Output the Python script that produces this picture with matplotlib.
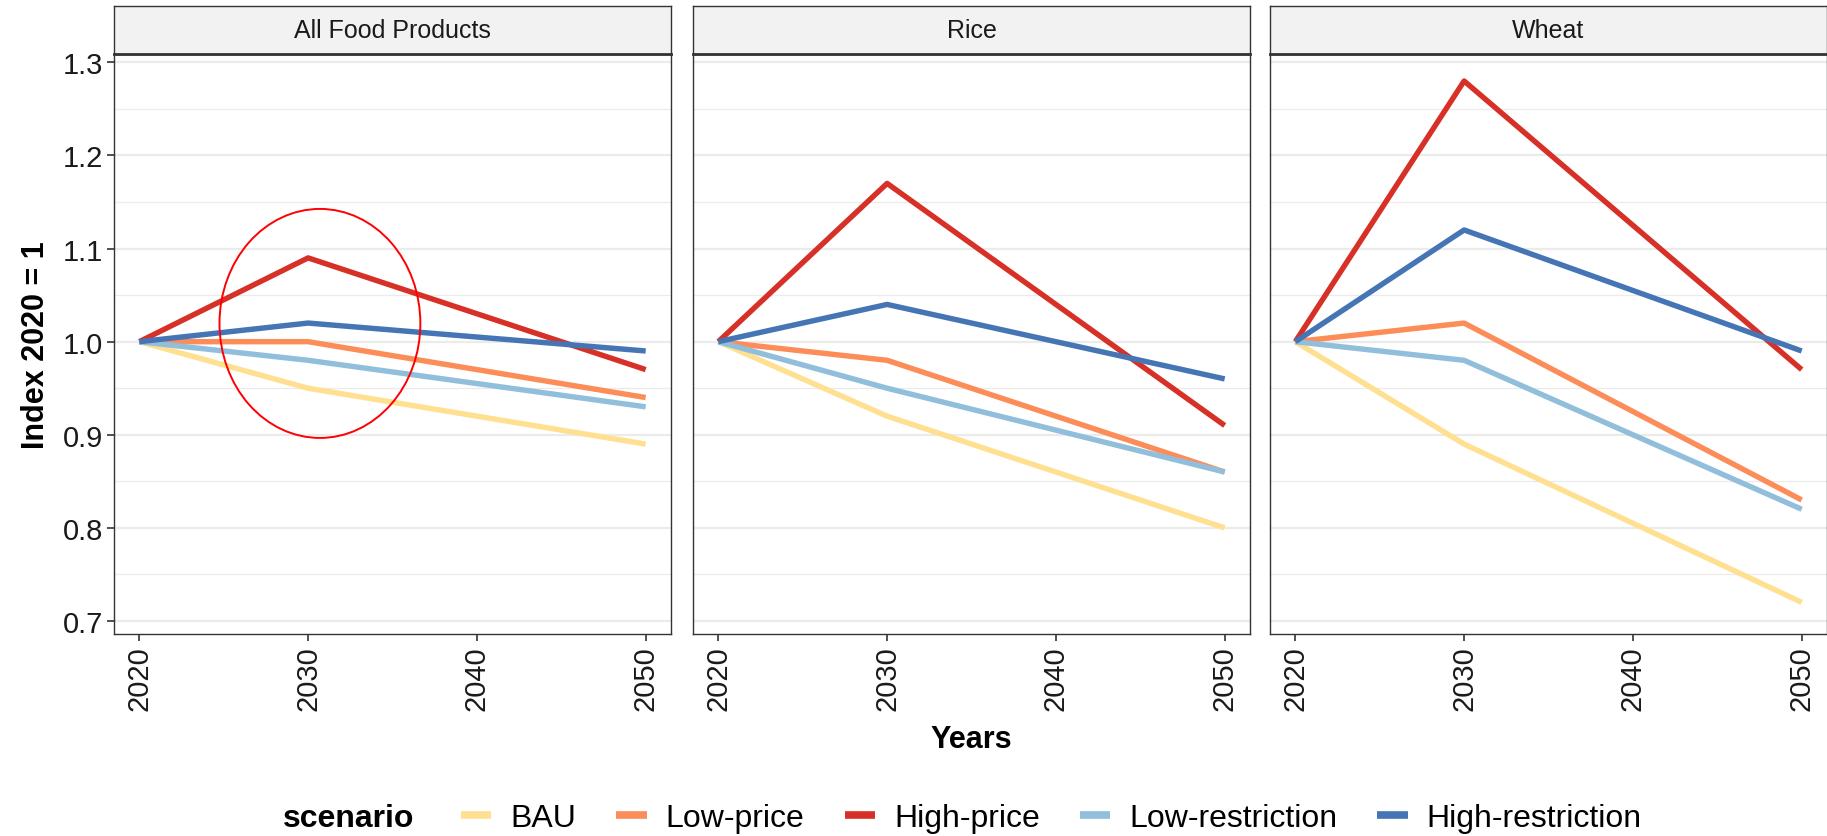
import matplotlib.pyplot as plt
import numpy as np
from matplotlib.patches import Ellipse
from matplotlib.lines import Line2D

plt.rcParams['font.family'] = ['Liberation Sans', 'DejaVu Sans']

years = [2020, 2030, 2050]
panels = ['All Food Products', 'Rice', 'Wheat']
scenarios = ['BAU', 'Low-price', 'High-price', 'Low-restriction', 'High-restriction']
colors = ['#FEE090', '#FC8D59', '#D73027', '#91BFDB', '#4575B4']

# values per panel, per scenario (2020, 2030, 2050)
all_food = [[1.0, 0.95, 0.89],
            [1.0, 1.00, 0.94],
            [1.0, 1.09, 0.97],
            [1.0, 0.98, 0.93],
            [1.0, 1.02, 0.99]]
rice = [[1.0, 0.92, 0.80],
        [1.0, 0.98, 0.86],
        [1.0, 1.17, 0.91],
        [1.0, 0.95, 0.86],
        [1.0, 1.04, 0.96]]
wheat = [[1.0, 0.89, 0.72],
         [1.0, 1.02, 0.83],
         [1.0, 1.28, 0.97],
         [1.0, 0.98, 0.82],
         [1.0, 1.12, 0.99]]
data = [all_food, rice, wheat]

W, H = 1827, 837
fig = plt.figure(figsize=(W / 100, H / 100), dpi=100)

lefts = [114, 693, 1270]
pw = 557
top, bottom, strip_top = 55, 635, 7

for i, name in enumerate(panels):
    ax = fig.add_axes([lefts[i] / W, 1 - bottom / H, pw / W, (bottom - top) / H])
    for s in range(len(scenarios)):
        ax.plot(years, data[i][s], color=colors[s], lw=3.9, solid_capstyle='butt', zorder=3)
    ax.set_xlim(2018.5, 2051.5)
    ax.set_ylim(0.686, 1.309)
    ax.set_xticks([2020, 2030, 2040, 2050])
    ax.set_yticks(np.arange(0.7, 1.31, 0.1))
    ax.set_yticks(np.arange(0.75, 1.3, 0.1), minor=True)
    ax.grid(True, which='major', axis='y', color='#EBEBEB', lw=1.6)
    ax.grid(True, which='minor', axis='y', color='#EBEBEB', lw=0.9)
    ax.set_axisbelow(True)
    ax.tick_params(axis='x', labelrotation=90, labelsize=21, length=5, width=1.2, color='#333333',
                   labelcolor='#1a1a1a', pad=3)
    ax.tick_params(axis='y', labelsize=21, length=5, width=1.2, color='#333333', labelcolor='#1a1a1a', pad=3)
    ax.tick_params(which='minor', length=0)
    if i > 0:
        ax.tick_params(axis='y', labelleft=False, length=0)
    for sp in ax.spines.values():
        sp.set_color('#333333')
        sp.set_linewidth(1.0)
    if i == 0:
        ax.set_ylabel('Index 2020 = 1', fontsize=22, fontweight='bold', va='center')
        ax.yaxis.set_label_coords(-0.14, 0.5)
        ax.add_patch(Ellipse((2030.7, 1.0196), 11.9, 0.246, fill=False, edgecolor='red', lw=1.4, zorder=4))
    if i == 1:
        ax.set_xlabel('Years', fontsize=22, fontweight='bold', va='center')
        ax.xaxis.set_label_coords(0.5, -0.181)

    sax = fig.add_axes([lefts[i] / W, 1 - top / H, pw / W, (top - strip_top) / H])
    sax.set_facecolor('#F2F2F2')
    sax.set_xticks([])
    sax.set_yticks([])
    for sp in sax.spines.values():
        sp.set_color('#333333')
        sp.set_linewidth(1.0)
    sax.spines['bottom'].set_linewidth(2.0)
    sax.text(0.5, 0.5, name, ha='center', va='center', fontsize=18, color='#1a1a1a', transform=sax.transAxes)

handles = [Line2D([], [], color=c, lw=5.5, solid_capstyle='butt') for c in colors]
fig.text(283 / W, 1 - 819 / H, 'scenario', fontsize=23, fontweight='bold', va='center', ha='left')
fig.legend(handles, scenarios, loc='center left', bbox_to_anchor=(461 / W, 1 - 819 / H),
           ncol=5, frameon=False, fontsize=23, handlelength=0.95, columnspacing=1.25, handletextpad=0.6,
           borderpad=0, borderaxespad=0)

fig.savefig('out.png', dpi=100, facecolor='white')
